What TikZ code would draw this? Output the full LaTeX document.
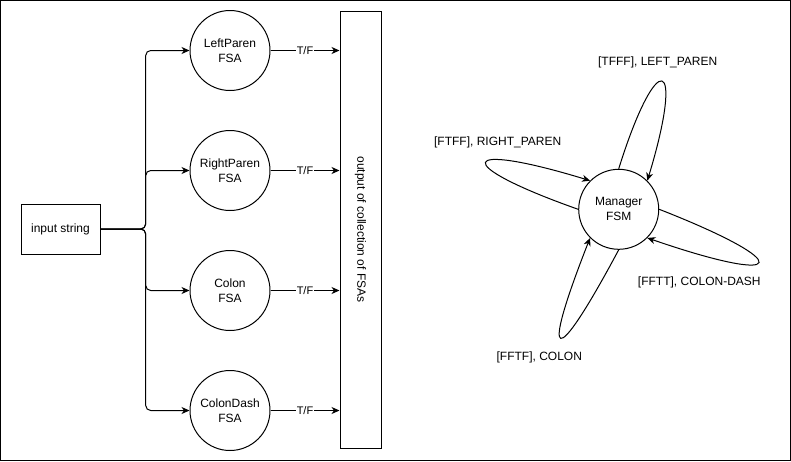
\documentclass[tikz,border=0pt]{standalone}
\usepackage{fontspec}
\setmainfont{Liberation Sans}
\usetikzlibrary{arrows.meta}
\begin{document}
\begin{tikzpicture}[x=1pt,y=-1pt, line width=1pt,
  >={Stealth[length=8pt,width=7pt,inset=2.5pt]},
  fsa/.style={draw, circle, minimum size=80pt, inner sep=0pt, align=center, font=\fontsize{12}{15}\selectfont},
  tf/.style={fill=white, inner sep=1pt, font=\fontsize{11}{13}\selectfont},
  lbl/.style={inner sep=0pt, font=\fontsize{12}{14}\selectfont},
  bus/.style={rounded corners=5pt}
]
\useasboundingbox (0,0) rectangle (791,461);
\draw (0.5,0.5) rectangle (790,460);

\node[draw, minimum width=79pt, minimum height=50pt, inner sep=0pt, font=\fontsize{12}{14}\selectfont] (in) at (60.5,229) {input string};

\node[fsa] (lp) at (230,50.5) {LeftParen\\FSA};
\node[fsa] (rp) at (230,170.5) {RightParen\\FSA};
\node[fsa] (co) at (230,290.5) {Colon\\FSA};
\node[fsa] (cd) at (230,410.5) {ColonDash\\FSA};

\node[draw, rotate=-90, minimum width=437pt, minimum height=41pt, inner sep=0pt, font=\fontsize{12}{14}\selectfont] (out) at (360.5,229.5) {output of collection of FSAs};

\coordinate (j) at (145.7,229);
\draw[bus,->] (in.east) -- (j) |- (lp.west);
\draw[bus,->] (in.east) -- (j) |- (rp.west);
\draw[bus,->] (in.east) -- (j) |- (co.west);
\draw[bus,->] (in.east) -- (j) |- (cd.west);

\draw[->] (lp.east) -- node[tf]{T/F} (lp.east -| out.south);
\draw[->] (rp.east) -- node[tf]{T/F} (rp.east -| out.south);
\draw[->] (co.east) -- node[tf]{T/F} (co.east -| out.south);
\draw[->] (cd.east) -- node[tf]{T/F} (cd.east -| out.south);

\node[fsa] (mgr) at (618.7,209.3) {Manager\\FSM};

\draw[->] (mgr.90) .. controls (657.0,46.1) and (685.6,54.9) .. (mgr.45);
\draw[->] (mgr.180) .. controls (449.3,163.8) and (457.1,140.0) .. (mgr.135);
\draw[->] (mgr.0) .. controls (797.8,263.5) and (789.2,286.9) .. (mgr.-45);
\draw[->] (mgr.270) .. controls (553.3,372.3) and (539.7,365.9) .. (mgr.225);

\node[lbl] (l1) at (657.7,62.7) {[TFFF], LEFT\_PAREN};
\node[lbl] (l2) at (497.7,142.7) {[FTFF], RIGHT\_PAREN};
\node[lbl] (l3) at (699.3,282.7) {[FFTT], COLON-DASH};
\node[lbl] (l4) at (539.3,357.7) {[FFTF], COLON};
\end{tikzpicture}
\end{document}
